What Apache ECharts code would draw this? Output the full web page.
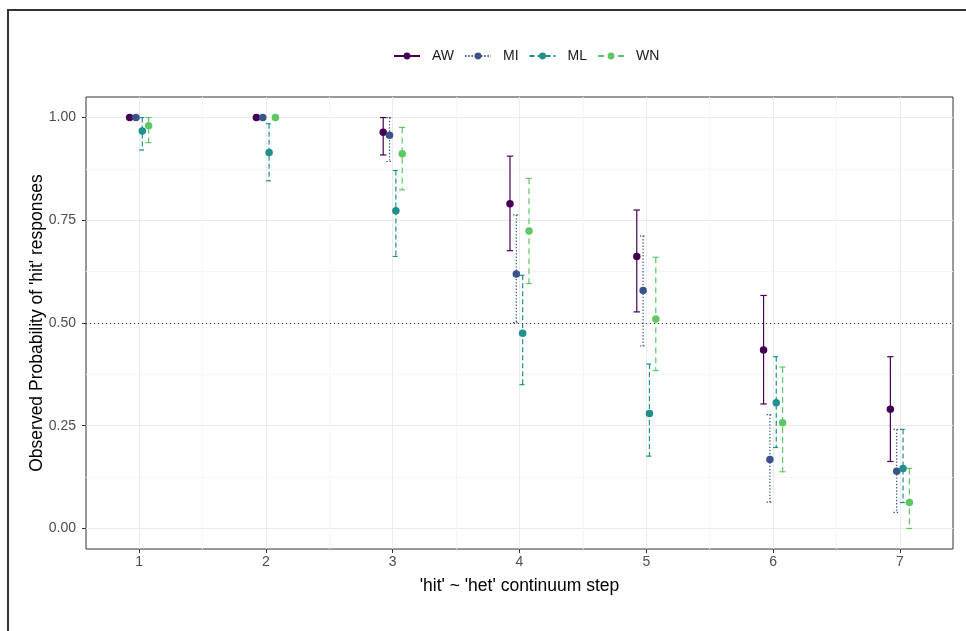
<!DOCTYPE html>
<html>
<head>
<meta charset="UTF-8" />
<title>Observed probability of 'hit' responses</title>
<script src="https://cdn.jsdelivr.net/npm/echarts@6/dist/echarts.min.js"></script>
</head>
<body style="margin: 0">
<div id="main" style="width: 966px; height: 631px"></div>
<script>
const steps = [1, 2, 3, 4, 5, 6, 7]
const groups = ['AW', 'MI', 'ML', 'WN']

// observed probability and its interval, per continuum step
const meanAW = [1.0, 1.0, 0.964, 0.79, 0.662, 0.434, 0.29]
const lowAW = [1.0, 1.0, 0.909, 0.676, 0.527, 0.303, 0.163]
const highAW = [1.0, 1.0, 1.0, 0.906, 0.775, 0.567, 0.418]

const meanMI = [1.0, 1.0, 0.957, 0.619, 0.579, 0.168, 0.139]
const lowMI = [1.0, 1.0, 0.893, 0.501, 0.444, 0.064, 0.039]
const highMI = [1.0, 1.0, 1.0, 0.763, 0.712, 0.277, 0.241]

const meanML = [0.967, 0.915, 0.773, 0.475, 0.28, 0.306, 0.146]
const lowML = [0.921, 0.846, 0.662, 0.35, 0.176, 0.197, 0.063]
const highML = [1.0, 0.985, 0.871, 0.616, 0.4, 0.418, 0.241]

const meanWN = [0.98, 1.0, 0.912, 0.724, 0.51, 0.257, 0.063]
const lowWN = [0.939, 1.0, 0.824, 0.596, 0.384, 0.138, 0.0]
const highWN = [1.0, 1.0, 0.976, 0.852, 0.66, 0.393, 0.146]

const yTicks = [0, 0.25, 0.5, 0.75, 1]
const refLine = 0.5

const means = { AW: meanAW, MI: meanMI, ML: meanML, WN: meanWN }
const lows = { AW: lowAW, MI: lowMI, ML: lowML, WN: lowWN }
const highs = { AW: highAW, MI: highMI, ML: highML, WN: highWN }

const colors = { AW: '#440154', MI: '#3B528B', ML: '#21908C', WN: '#5DC863' }
const dashes = { AW: 'solid', MI: [1.4, 1.8], ML: [5, 3], WN: [6, 4] }
const dodge = { AW: -0.075, MI: -0.025, ML: 0.025, WN: 0.075 }

const font = 'Liberation Sans, Arial, sans-serif'
const xMin = 0.581
const xMax = 7.419

// grid lines: major + minor (half steps), colours alternate
const xGrid = []
for (let v = 1; v <= 7; v += 0.5) xGrid.push(v)
const yGrid = []
for (let v = 0; v <= 1.0001; v += 0.125) yGrid.push(+v.toFixed(3))

const chart = echarts.init(document.getElementById('main'))

function errorBar(color, dash) {
  return function (params, api) {
    const x = api.value(0)
    const top = api.coord([x, api.value(2)])
    const bot = api.coord([x, api.value(1)])
    const w = 3.2
    const st = () => ({
      stroke: color,
      lineWidth: 1.2,
      lineDash: dash === 'solid' ? null : dash,
      fill: null,
    })
    return {
      type: 'group',
      children: [
        { type: 'line', shape: { x1: top[0] - w, y1: top[1], x2: top[0] + w, y2: top[1] }, style: st() },
        { type: 'line', shape: { x1: top[0], y1: top[1], x2: bot[0], y2: bot[1] }, style: st() },
        { type: 'line', shape: { x1: bot[0] - w, y1: bot[1], x2: bot[0] + w, y2: bot[1] }, style: st() },
      ],
    }
  }
}

const series = []
// empty line series only carry the legend icon (line + point)
groups.forEach((g) => {
  series.push({
    type: 'line',
    name: g,
    data: [],
    symbol: 'circle',
    symbolSize: 7,
    itemStyle: { color: colors[g] },
    lineStyle: { color: colors[g], width: 1.2, type: dashes[g] },
  })
})
groups.forEach((g) => {
  series.push({
    type: 'custom',
    name: g,
    renderItem: errorBar(colors[g], dashes[g]),
    encode: { x: 0, y: [1, 2] },
    data: steps.map((s, i) => [s + dodge[g], lows[g][i], highs[g][i]]),
    z: 3,
  })
})
groups.forEach((g, k) => {
  const s = {
    type: 'scatter',
    name: g,
    symbol: 'circle',
    symbolSize: 7.5,
    itemStyle: { color: colors[g], opacity: 1 },
    data: steps.map((st, i) => [st + dodge[g], means[g][i]]),
    z: 4,
  }
  if (k === 0) {
    s.markLine = {
      silent: true,
      symbol: ['none', 'none'],
      label: { show: false },
      lineStyle: { color: '#333', type: [1, 3], width: 1 },
      data: [{ yAxis: refLine }],
    }
  }
  series.push(s)
})

const option = {
  animation: false,
  backgroundColor: '#fff',
  textStyle: { fontFamily: font },
  graphic: [
    { type: 'rect', shape: { x: 7, y: 9, width: 959, height: 2 }, style: { fill: '#333' } },
    { type: 'rect', shape: { x: 7, y: 9, width: 2, height: 622 }, style: { fill: '#333' } },
  ],
  legend: {
    data: groups,
    left: 388,
    top: 44,
    itemWidth: 26,
    itemHeight: 8.5,
    itemGap: 10,
    selectedMode: false,
    textStyle: { fontSize: 14, color: '#1a1a1a', fontFamily: font, padding: [0, 0, 0, 7] },
  },
  grid: {
    left: 86,
    right: 13,
    top: 97,
    bottom: 82,
    show: true,
    borderColor: '#333',
    borderWidth: 1,
  },
  xAxis: [
    {
      type: 'value',
      min: xMin,
      max: xMax,
      position: 'bottom',
      axisLine: { show: false, onZero: false },
      axisTick: { show: false, customValues: xGrid },
      axisLabel: { show: false },
      splitLine: { show: true, lineStyle: { color: ['#EBEBEB', '#F5F5F5'], width: 1 } },
    },
    {
      type: 'value',
      min: xMin,
      max: xMax,
      position: 'bottom',
      axisLine: { show: false, onZero: false },
      axisTick: { show: true, length: 4, lineStyle: { color: '#333' }, customValues: steps },
      axisLabel: { customValues: steps, color: '#4D4D4D', fontSize: 14, margin: 6, fontFamily: font },
      splitLine: { show: false },
      name: "'hit' ~ 'het' continuum step",
      nameLocation: 'middle',
      nameGap: 28,
      nameMoveOverlap: false,
      nameTextStyle: { fontSize: 17.5, color: '#000', fontFamily: font },
    },
  ],
  yAxis: [
    {
      type: 'value',
      min: -0.05,
      max: 1.05,
      position: 'left',
      axisLine: { show: false, onZero: false },
      axisTick: { show: false, customValues: yGrid },
      axisLabel: { show: false },
      splitLine: { show: true, lineStyle: { color: ['#EBEBEB', '#F5F5F5'], width: 1 } },
    },
    {
      type: 'value',
      min: -0.05,
      max: 1.05,
      position: 'left',
      axisLine: { show: false, onZero: false },
      axisTick: { show: true, length: 4, lineStyle: { color: '#333' }, customValues: yTicks },
      axisLabel: {
        customValues: yTicks,
        color: '#4D4D4D',
        fontSize: 14,
        margin: 10,
        fontFamily: font,
        formatter: (v) => v.toFixed(2),
      },
      splitLine: { show: false },
      name: "Observed Probability of 'hit' responses",
      nameLocation: 'middle',
      nameGap: 40,
      nameMoveOverlap: false,
      nameTextStyle: { fontSize: 17.5, color: '#000', fontFamily: font },
    },
  ],
  series,
}

chart.setOption(option)
</script>
</body>
</html>
